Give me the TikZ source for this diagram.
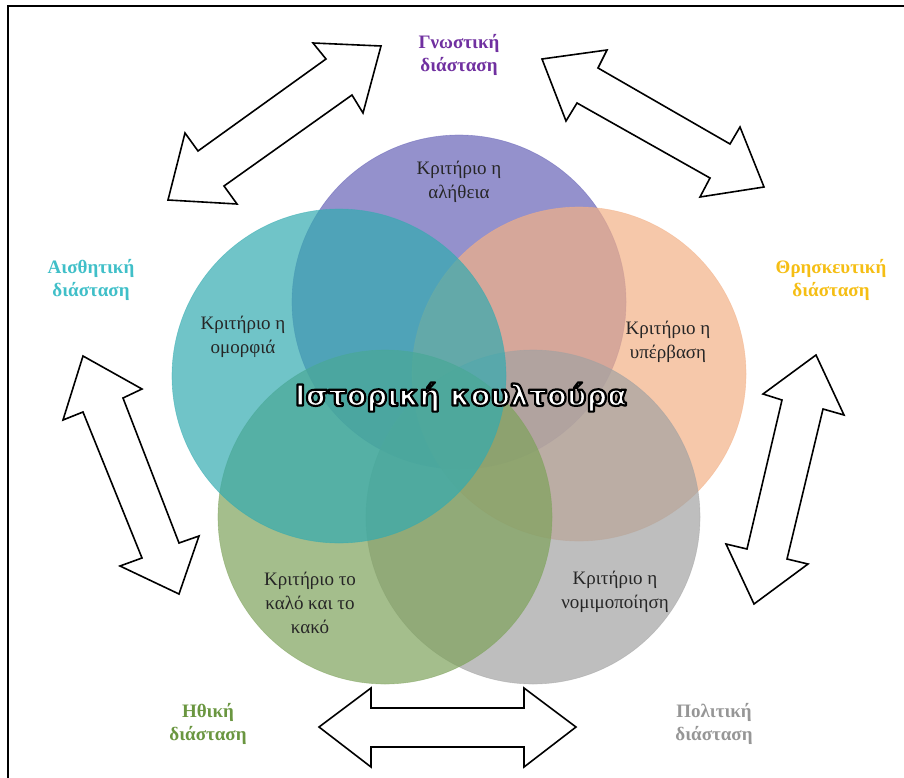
\documentclass[tikz,border=0pt]{standalone}
\usepackage{fontspec}
\setmainfont{Liberation Serif}
\newfontfamily\titlefont{DejaVu Sans Bold}
\usetikzlibrary{calc}
\definecolor{cpurple}{RGB}{102,98,182}
\definecolor{cteal}{RGB}{51,171,176}
\definecolor{corange}{RGB}{242,176,134}
\definecolor{cgreen}{RGB}{126,162,91}
\definecolor{cgray}{RGB}{162,162,162}
\definecolor{lpurple}{RGB}{112,48,160}
\definecolor{lteal}{RGB}{64,191,200}
\definecolor{lgold}{RGB}{245,190,20}
\definecolor{lgreen}{RGB}{106,150,64}
\definecolor{lgray}{RGB}{150,150,150}
\newcommand\outlinedtext[1]{\special{pdf:literal direct 0 0 0 RG 2 Tr 2.2 w 1 j}#1\special{pdf:literal direct 0 Tr}}
\begin{document}
\begin{tikzpicture}[x=1pt,y=-1pt,
  venn/.style={circle, minimum size=334pt, inner sep=0pt, fill opacity=0.7, draw opacity=0.5, line width=0.6pt},
  crit/.style={font=\fontsize{19}{24}\selectfont, align=center, text=black!85, inner sep=0pt},
  dim/.style={font=\fontsize{19}{23}\selectfont\bfseries, align=center, inner sep=0pt},
  blk/.style={draw=black, line width=1.6pt, fill=white, line join=miter},
  ttl/.style={font=\titlefont\fontsize{29}{32}\selectfont, inner sep=0pt}]
\useasboundingbox (0,0) rectangle (904,778);
% frame
\draw[line width=1.6pt] (8,778) -- (8,6) -- (904,6);
% circles
\node[venn, fill=cpurple, draw=cpurple] (c1) at (459,302) {};
\node[venn, fill=corange, draw=corange] (c2) at (579,374) {};
\node[venn, fill=cgray, draw=cgray] (c3) at (533,517) {};
\node[venn, fill=cgreen, draw=cgreen] (c4) at (385,517) {};
\node[venn, fill=cteal, draw=cteal] (c5) at (339,376) {};
% criterion texts
\node[crit] (t1) at (459,182) {Κριτήριο η\\αλήθεια};
\node[crit] (t2) at (668,342) {Κριτήριο η\\υπέρβαση};
\node[crit] (t3) at (615,592) {Κριτήριο η\\νομιμοποίηση};
\node[crit] (t4) at (310,603) {Κριτήριο το\\καλό και το\\κακό};
\node[crit] (t5) at (243,337) {Κριτήριο η\\ομορφιά};
% title with outline
\node[ttl, text=white] (title) at (461,397) {\outlinedtext{Ιστορική κουλτούρα}};
% dimension labels
\node[dim, text=lpurple] (d1) at (459,55) {Γνωστική\\διάσταση};
\node[dim, text=lgold] (d2) at (831,280) {Θρησκευτική\\διάσταση};
\node[dim, text=lgray] (d3) at (714,724) {Πολιτική\\διάσταση};
\node[dim, text=lgreen] (d4) at (208,724) {Ηθική\\διάσταση};
\node[dim, text=lteal] (d5) at (91,280) {Αισθητική\\διάσταση};
% block arrows
\draw[blk] (381,46) -- (363,113) -- (352,95) -- (224,186) -- (237,204) -- (168,200) -- (185,133) -- (198,151) -- (326,59) -- (313,43) -- cycle;
\draw[blk] (542,59) -- (607,50) -- (598,68) -- (730,144) -- (740,127) -- (764,187) -- (700,197) -- (710,178) -- (577,103) -- (566,121) -- cycle;
\draw[blk] (816,355) -- (844,415) -- (823,409) -- (787,559) -- (808,564) -- (754,604) -- (726,544) -- (747,549) -- (782,400) -- (763,394) -- cycle;
\draw[blk] (319,727) -- (371,688) -- (371,708) -- (524,708) -- (524,688) -- (576,727) -- (524,767) -- (524,747) -- (371,747) -- (371,767) -- cycle;
\draw[blk] (83,356) -- (142,389) -- (123,398) -- (179,543) -- (199,536) -- (179,594) -- (120,566) -- (142,558) -- (83,412) -- (63,420) -- cycle;
\end{tikzpicture}
\end{document}
